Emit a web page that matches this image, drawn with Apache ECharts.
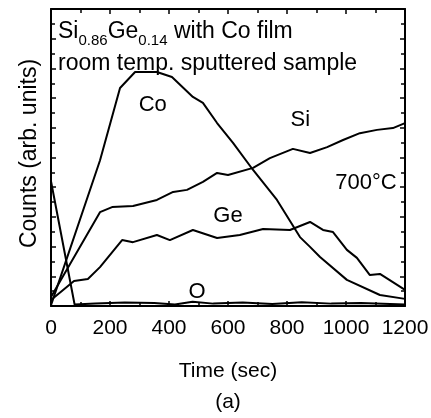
<!DOCTYPE html>
<html><head><meta charset="utf-8">
<script src="https://cdn.jsdelivr.net/npm/echarts@6/dist/echarts.min.js"></script>
<style>html,body{margin:0;padding:0;background:#fff}#c{width:431px;height:418px}</style>
</head><body><div id="c"></div>
<script>
// Time (sec), Counts (arb. units)
const siData = [[0,3],[166,31.6],[207,33.3],[278,33.7],[359,35.7],[414,38.4],[461,39.1],[515,41.8],[563,44.8],[600,44.1],[685,46.5],[742,49.8],[820,52.9],[878,51.5],[936,53.5],[990,55.9],[1047,58.2],[1105,59.3],[1159,59.9],[1200,61.6]];
const geData = [[0,2],[78,8.4],[125,9.1],[166,13.1],[241,22.2],[278,21.5],[359,23.9],[403,22.2],[481,25.6],[563,22.9],[640,23.9],[719,25.9],[810,25.6],[878,28.3],[922,25.6],[956,24.9],[1003,18.9],[1037,16.2],[1081,10.4],[1115,10.8],[1200,5.4]];
const coData = [[0,0.3],[166,49],[234,73.4],[285,78.8],[359,78.8],[410,77.1],[481,70.4],[515,68.4],[563,61.6],[617,54.9],[685,45.8],[766,35.7],[844,23.2],[878,19.9],[912,16.5],[1003,8.8],[1115,3.7],[1200,2.4]];
const oData = [[0,42],[80,0.5],[150,0.8],[250,1.2],[350,1.0],[420,0.5],[480,1.4],[550,0.8],[650,1.2],[750,0.7],[850,1.3],[950,0.8],[1050,1.0],[1200,0.5]];
const xTicks = {min:0, max:1200, interval:200};
const annotations = [[345,67.7,'Co'],[845,62.6,'Si'],[1068,41.4,'700°C'],[600,30.3,'Ge'],[495,4.7,'O']];
const titleLine1 = ['Si','0.86','Ge','0.14',' with Co film'];
const titleLine2 = 'room temp. sputtered sample';

const FF = 'Liberation Sans';
const chart = echarts.init(document.getElementById('c'), null, {renderer:'canvas'});
const lineSeries = (d) => ({type:'line', data:d, showSymbol:false, smooth:false, lineStyle:{color:'#000', width:2}, silent:true, z:3});
const tickCommon = {show:true, inside:true, length:5, lineStyle:{color:'#000', width:1.5}};
const minorCommon = {show:true, splitNumber:2, length:4, lineStyle:{color:'#000', width:1.5}};
const frameLine = {show:true, onZero:false, lineStyle:{color:'#000', width:2}};
chart.setOption({
  animation:false,
  backgroundColor:'#fff',
  title:{
    left:53, top:11,
    text:'{a|'+titleLine1[0]+'}{s|'+titleLine1[1]+'}{a|'+titleLine1[2]+'}{s|'+titleLine1[3]+'}{a|'+titleLine1[4]+'}\n{a|'+titleLine2+'}',
    textStyle:{fontWeight:'normal', rich:{
      a:{fontFamily:FF, fontSize:23, fontWeight:'normal', color:'#000', lineHeight:32},
      s:{fontFamily:FF, fontSize:15, fontWeight:'normal', color:'#000', lineHeight:32, verticalAlign:'bottom'}
    }}
  },
  grid:{left:51, right:26, top:9, bottom:112, containLabel:false, outerBoundsMode:'none'},
  xAxis:[{
    type:'value', min:xTicks.min, max:xTicks.max, interval:xTicks.interval, position:'bottom',
    axisLine:frameLine,
    axisTick:tickCommon, minorTick:minorCommon, splitLine:{show:false},
    axisLabel:{color:'#000', fontFamily:FF, fontSize:21, margin:12, formatter:v=>String(v)},
    name:'Time (sec)\n(a)', nameLocation:'middle', nameGap:50,
    nameTextStyle:{color:'#000', fontFamily:FF, fontSize:21, lineHeight:31}
  },{
    type:'value', min:xTicks.min, max:xTicks.max, interval:xTicks.interval, position:'top',
    axisLine:frameLine,
    axisTick:tickCommon, minorTick:minorCommon, splitLine:{show:false}, axisLabel:{show:false}
  }],
  yAxis:[{
    type:'value', min:0, max:100, interval:10, position:'left',
    axisLine:frameLine,
    axisTick:tickCommon, minorTick:minorCommon, splitLine:{show:false}, axisLabel:{show:false},
    name:'Counts (arb. units)', nameLocation:'middle', nameGap:10,
    nameTextStyle:{color:'#000', fontFamily:FF, fontSize:23, padding:[0,0,0,8]}
  },{
    type:'value', min:0, max:100, interval:10, position:'right',
    axisLine:frameLine,
    axisTick:tickCommon, minorTick:minorCommon, splitLine:{show:false}, axisLabel:{show:false}
  }],
  series:[
    lineSeries(siData), lineSeries(geData), lineSeries(coData), lineSeries(oData),
    {type:'scatter', data:annotations.map(a=>({value:[a[0],a[1]], name:a[2]})), symbolSize:0, silent:true, z:5,
     itemStyle:{opacity:1},
     label:{show:true, position:'inside', formatter:p=>p.name, color:'#000', opacity:1, fontFamily:FF, fontSize:22}}
  ]
});
</script></body></html>
